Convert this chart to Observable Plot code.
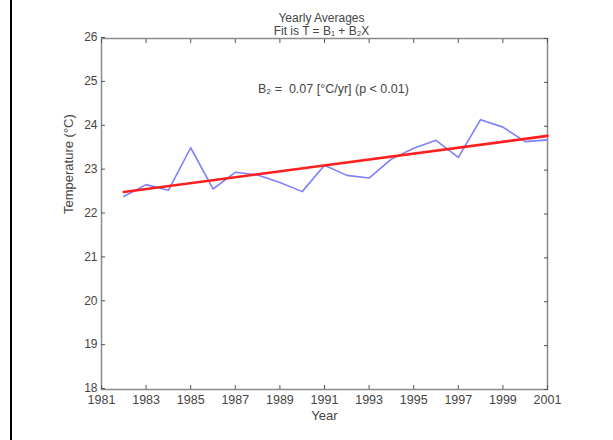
<!DOCTYPE html>
<html><head><meta charset="utf-8">
<script src="https://cdn.jsdelivr.net/npm/d3@7"></script>
<script src="https://cdn.jsdelivr.net/npm/@observablehq/plot@0.6"></script>
<style>
body{margin:0;background:#fff;}
#wrap{position:relative;width:613px;height:440px;overflow:hidden;}
#border{position:absolute;left:10px;top:0;width:2px;height:440px;background:#000;}
#chart{position:absolute;left:0;top:0;}
</style></head><body>
<div id="wrap"><div id="border"></div><div id="chart"></div></div>
<script>
const years = [1982,1983,1984,1985,1986,1987,1988,1989,1990,1991,1992,1993,1994,1995,1996,1997,1998,1999,2000,2001];
const temps = [22.40,22.67,22.54,23.51,22.57,22.95,22.89,22.72,22.51,23.11,22.88,22.82,23.25,23.50,23.68,23.29,24.15,23.98,23.65,23.69];
const fitYears = [1982, 2001];
const fitTemps = [22.50, 23.78];
const xTicks = [1981,1983,1985,1987,1989,1991,1993,1995,1997,1999,2001];
const yTicks = [18,19,20,21,22,23,24,25,26];
const titleLines = ["Yearly Averages", "Fit is T = B\u2081 + B\u2082X"];
const xLabel = "Year";
const yLabel = "Temperature (\u00B0C)";
const noteYear = 1991.4;
const noteTemp = 24.84;
const noteText = "B\u2082 =  0.07 [\u00B0C/yr] (p < 0.01)";

const series = years.map((y, i) => ({year: y, temp: temps[i]}));
const fit = fitYears.map((y, i) => ({year: y, temp: fitTemps[i]}));

const font = "'Liberation Sans', Arial, sans-serif";
const txt = "#444";

const chart = Plot.plot({
  width: 613,
  height: 440,
  marginLeft: 101,
  marginRight: 66,
  marginTop: 38,
  marginBottom: 51,
  style: {fontFamily: font, fontSize: "13px", color: txt, background: "transparent"},
  x: {domain: [1981, 2001]},
  y: {domain: [18, 26]},
  marks: [
    Plot.frame({stroke: "#8a8a8a", strokeWidth: 1.5}),
    Plot.axisX({anchor: "bottom", ticks: xTicks, tickFormat: d => String(d), tickSize: -4, tickPadding: 10, stroke: "#555", label: null, fontSize: 12.5}),
    Plot.axisX({anchor: "top", ticks: xTicks, tickFormat: () => "", tickSize: -4, stroke: "#555", label: null}),
    Plot.axisY({anchor: "left", ticks: yTicks, tickFormat: d => String(d), tickSize: -4, tickPadding: 8, stroke: "#555", label: null, fontSize: 12, dy: -1}),
    Plot.axisY({anchor: "right", ticks: yTicks, tickFormat: () => "", tickSize: -4, stroke: "#555", label: null}),
    Plot.line(series, {x: "year", y: "temp", stroke: "#7f7fff", strokeWidth: 1.6}),
    Plot.line(fit, {x: "year", y: "temp", stroke: "#ff1f1f", strokeWidth: 2.6}),
    Plot.text([noteText], {x: noteYear, y: noteTemp, text: d => d, fontSize: 12.5, fill: txt}),
    Plot.text([titleLines[0]], {frameAnchor: "top", dx: -3, dy: -25, text: d => d, fontSize: 12, fill: txt}),
    Plot.text([titleLines[1]], {frameAnchor: "top", dx: -3, dy: -12, text: d => d, fontSize: 12, fill: txt}),
    Plot.text([xLabel], {frameAnchor: "bottom", dy: 30, text: d => d, fontSize: 13, fill: txt}),
    Plot.text([yLabel], {frameAnchor: "left", dx: -33, rotate: -90, text: d => d, fontSize: 13, fill: txt})
  ]
});
document.getElementById("chart").appendChild(chart);
</script>
</body></html>
